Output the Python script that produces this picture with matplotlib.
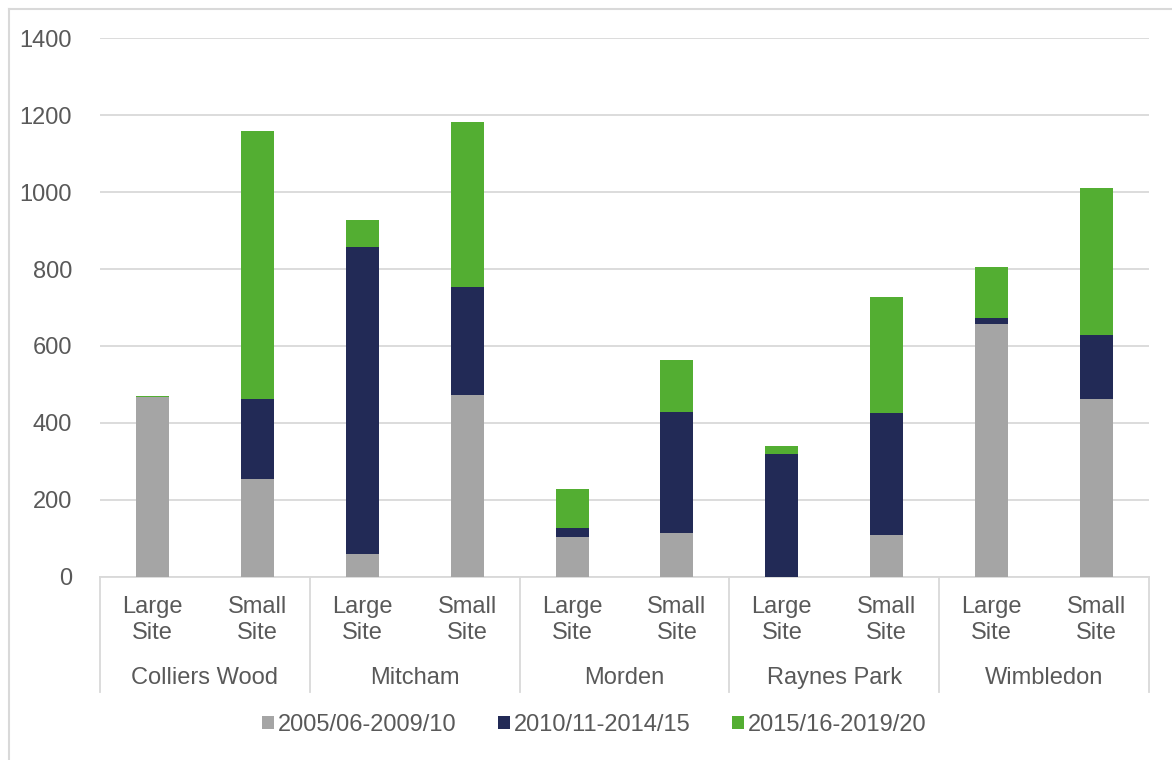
import matplotlib.pyplot as plt
from matplotlib.lines import Line2D
from matplotlib.transforms import blended_transform_factory

areas = ['Colliers Wood', 'Mitcham', 'Morden', 'Raynes Park', 'Wimbledon']
site_types = ['Large\nSite', 'Small\nSite']
series_names = ['2005/06-2009/10', '2010/11-2014/15', '2015/16-2019/20']

# order: CW L, CW S, Mitcham L, Mitcham S, Morden L, Morden S, RP L, RP S, Wim L, Wim S
p2005 = [467, 254, 59, 472, 103, 113, 0, 109, 657, 461]
p2010 = [0, 207, 799, 280, 24, 315, 318, 316, 16, 167]
p2015 = [3, 698, 70, 430, 101, 136, 21, 302, 133, 383]

colors = ['#A5A5A5', '#222A56', '#53AE32']
text_col = '#595959'
grid_col = '#D9D9D9'

plt.rcParams['font.family'] = ['Liberation Sans', 'DejaVu Sans']

fig = plt.figure(figsize=(11.72, 7.6), dpi=100)
ax = fig.add_axes([0.0853, 0.2412, 0.8951, 0.7084])

x = list(range(len(p2005)))
bottom = [0] * len(x)
handles = []
for vals, col, name in zip([p2005, p2010, p2015], colors, series_names):
    b = ax.bar(x, vals, 0.315, bottom=bottom, color=col, label=name, zorder=3)
    handles.append(b)
    bottom = [a + v for a, v in zip(bottom, vals)]

ax.set_xlim(-0.5, len(x) - 0.5)
ax.set_ylim(0, 1400)
ax.set_yticks(range(0, 1401, 200))
ax.yaxis.grid(True, color=grid_col, linewidth=1.3, zorder=0)
ax.tick_params(axis='y', length=0, pad=20, labelsize=17, labelcolor=text_col)
ax.tick_params(axis='x', length=0, pad=14, labelsize=17, labelcolor=text_col)

ax.set_xticks(x)
ax.set_xticklabels(site_types * len(areas), linespacing=1.25)

for s in ['top', 'right', 'left']:
    ax.spines[s].set_visible(False)
ax.spines['bottom'].set_color(grid_col)
ax.spines['bottom'].set_linewidth(1.3)

trans = blended_transform_factory(ax.transData, ax.transAxes)
sep_bottom = -(692 - 577) / 538.4
for i in range(len(areas) + 1):
    ax.plot([2 * i - 0.5, 2 * i - 0.5], [0, sep_bottom], color=grid_col,
            linewidth=1.3, transform=trans, clip_on=False)
for i, name in enumerate(areas):
    ax.text(2 * i + 0.5, -(678 - 577) / 538.4, name, transform=trans,
            ha='center', va='center', fontsize=17, color=text_col)

fig.legend(handles=handles, labels=series_names, loc='center',
           bbox_to_anchor=(0.507, 0.046), ncol=3, frameon=False,
           fontsize=17, labelcolor=text_col, handlelength=0.5,
           handleheight=0.5, handletextpad=0.15, columnspacing=1.78)

# chart frame (top and left edges only show in the crop)
fx = 9 / 1172
fy = 1 - 9 / 760
fig.add_artist(Line2D([fx, 1], [fy, fy], transform=fig.transFigure,
                      color=grid_col, linewidth=1.5))
fig.add_artist(Line2D([fx, fx], [0, fy], transform=fig.transFigure,
                      color=grid_col, linewidth=1.5))

fig.savefig('out.png', dpi=100)
